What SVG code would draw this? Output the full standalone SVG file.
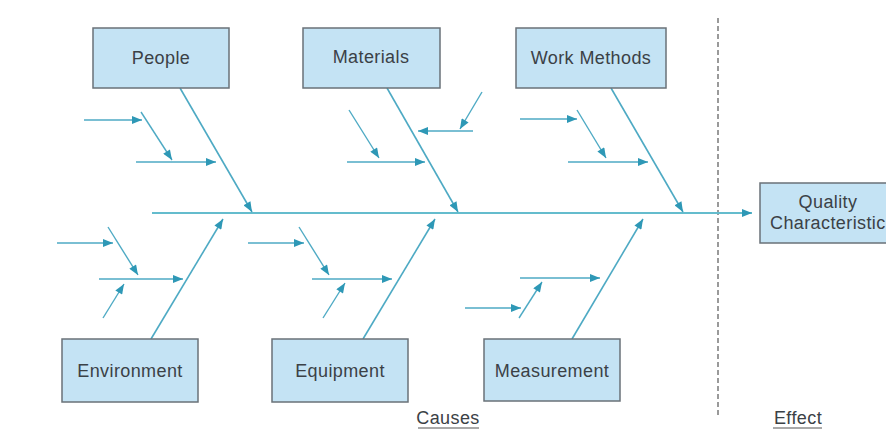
<svg xmlns="http://www.w3.org/2000/svg" width="886" height="430" viewBox="0 0 886 430">
  <style>
    .box { fill: #c4e3f4; stroke: #6a7278; stroke-width: 1.5; }
    .lbl { font-family: "Liberation Sans", Arial, sans-serif; font-size: 18px; letter-spacing: 0.4px; fill: #3b4146; text-anchor: middle; }
    .cap { font-family: "Liberation Sans", Arial, sans-serif; font-size: 18px; letter-spacing: 0.4px; fill: #3b4146; text-anchor: middle; }
    .bone { stroke: #4eaac4; stroke-width: 1.6; fill: none; marker-end: url(#ah); }
    .twig { stroke: #4eaac4; stroke-width: 1.4; fill: none; marker-end: url(#ah); }
    .spine { stroke: #64bccd; stroke-width: 1.8; fill: none; marker-end: url(#ah); }
    .divider { stroke: #7a7a7a; stroke-width: 1.5; stroke-dasharray: 5 3; fill: none; }
    .uline { stroke: #555; stroke-width: 1.2; }
  </style>
  <defs>
    <marker id="ah" viewBox="0 0 10 8" refX="10" refY="4" markerWidth="11" markerHeight="8" markerUnits="userSpaceOnUse" orient="auto">
      <path d="M0,0 L10,4 L0,8 z" fill="#2e98b6"/>
    </marker>
  </defs>
  <rect width="886" height="430" fill="#ffffff"/>

  <!-- dashed boundary between causes and effect -->
  <line class="divider" x1="718" y1="18" x2="718" y2="418"/>

  <g id="connectors">
    <!-- main spine -->
    <line class="spine" x1="152" y1="213" x2="752" y2="213"/>

    <!-- main bones -->
    <line class="bone" x1="180" y1="88" x2="252" y2="212"/>
    <line class="bone" x1="387" y1="88" x2="458" y2="212"/>
    <line class="bone" x1="611" y1="88" x2="683" y2="212"/>
    <line class="bone" x1="151" y1="339" x2="223" y2="219"/>
    <line class="bone" x1="363" y1="339" x2="435" y2="219"/>
    <line class="bone" x1="572" y1="339" x2="643" y2="219"/>

    <!-- People twigs -->
    <line class="twig" x1="84" y1="120" x2="142" y2="120"/>
    <line class="twig" x1="141" y1="112" x2="172" y2="160"/>
    <line class="twig" x1="136" y1="162" x2="216" y2="162"/>

    <!-- Materials twigs -->
    <line class="twig" x1="349" y1="110" x2="379" y2="158"/>
    <line class="twig" x1="347" y1="162" x2="425" y2="162"/>
    <line class="twig" x1="473" y1="131" x2="418" y2="131"/>
    <line class="twig" x1="482" y1="92" x2="460" y2="129"/>

    <!-- Work Methods twigs -->
    <line class="twig" x1="520" y1="119" x2="577" y2="119"/>
    <line class="twig" x1="577" y1="110" x2="606" y2="158"/>
    <line class="twig" x1="568" y1="162" x2="648" y2="162"/>

    <!-- Environment twigs -->
    <line class="twig" x1="57" y1="243" x2="113" y2="243"/>
    <line class="twig" x1="108" y1="227" x2="138" y2="275"/>
    <line class="twig" x1="99" y1="279" x2="183" y2="279"/>
    <line class="twig" x1="103" y1="318" x2="124" y2="284"/>

    <!-- Equipment twigs -->
    <line class="twig" x1="248" y1="243" x2="304" y2="243"/>
    <line class="twig" x1="299" y1="227" x2="329" y2="275"/>
    <line class="twig" x1="312" y1="279" x2="392" y2="279"/>
    <line class="twig" x1="323" y1="318" x2="345" y2="283"/>

    <!-- Measurement twigs -->
    <line class="twig" x1="520" y1="278" x2="600" y2="278"/>
    <line class="twig" x1="519" y1="318" x2="542" y2="282"/>
    <line class="twig" x1="465" y1="308" x2="521" y2="308"/>
  </g>

  <g id="people">
    <rect class="box" x="93" y="28" width="136" height="60"/>
    <text class="lbl" x="161" y="64">People</text>
  </g>
  <g id="materials">
    <rect class="box" x="303" y="28" width="137" height="60"/>
    <text class="lbl" x="371" y="63">Materials</text>
  </g>
  <g id="work-methods">
    <rect class="box" x="516" y="28" width="150" height="60"/>
    <text class="lbl" x="591" y="64">Work Methods</text>
  </g>
  <g id="environment">
    <rect class="box" x="62" y="339" width="136" height="63"/>
    <text class="lbl" x="130" y="377">Environment</text>
  </g>
  <g id="equipment">
    <rect class="box" x="272" y="339" width="136" height="63"/>
    <text class="lbl" x="340" y="377">Equipment</text>
  </g>
  <g id="measurement">
    <rect class="box" x="484" y="339" width="136" height="62"/>
    <text class="lbl" x="552" y="377">Measurement</text>
  </g>
  <g id="quality-characteristics">
    <rect class="box" x="760" y="183" width="140" height="60"/>
    <text class="lbl" x="828" y="208">Quality</text>
    <text class="lbl" x="770" y="229" style="text-anchor:start">Characteristic</text>
  </g>

  <g id="captions">
    <text class="cap" x="448" y="424">Causes</text>
    <line class="uline" x1="418" y1="428" x2="479" y2="428"/>
    <text class="cap" x="798" y="424">Effect</text>
    <line class="uline" x1="773" y1="428" x2="822" y2="428"/>
  </g>
</svg>
